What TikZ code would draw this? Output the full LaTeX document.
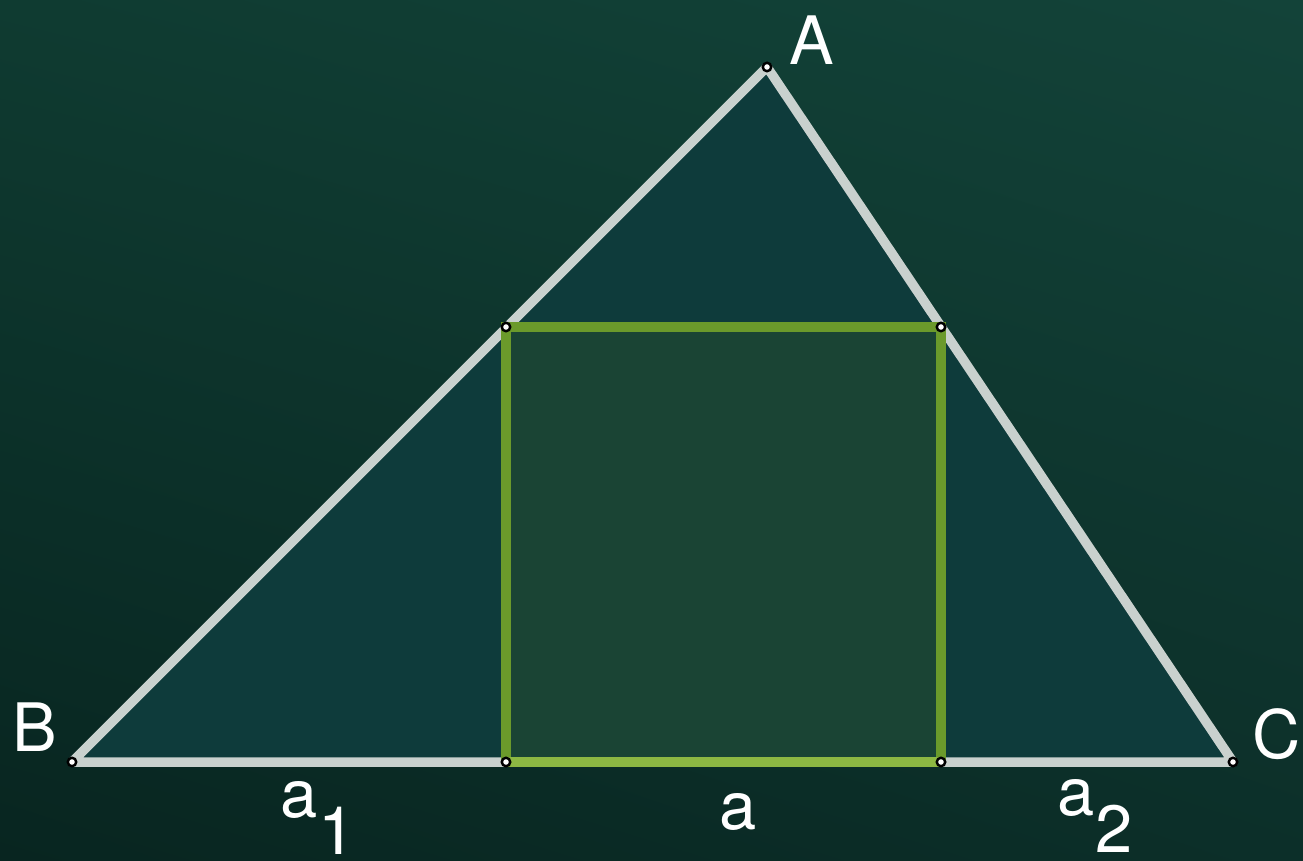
\documentclass[tikz,border=0pt]{standalone}
\usepackage{fontspec}
\setmainfont{TeX Gyre Heros}
\usetikzlibrary{shadings}
\begin{document}
\begin{tikzpicture}[x=0.01cm,y=-0.01cm,
  tri/.style={draw=triline,line width=2.7pt,line join=round},
  sq/.style={draw=sqline,line width=3.1pt},
  pt/.style={circle,draw=black,fill=white,line width=0.7pt,inner sep=0pt,minimum size=2.4pt},
  lbl/.style={text=white,font=\fontsize{19}{22}\selectfont}]
\definecolor{cul}{HTML}{0F3B31}
\definecolor{cur}{HTML}{134339}
\definecolor{cll}{HTML}{082520}
\definecolor{clr}{HTML}{0C2F29}
\definecolor{trifill}{HTML}{0E3B3B}
\definecolor{triline}{HTML}{C9D1CE}
\definecolor{sqfill}{HTML}{1A4434}
\definecolor{sqline}{HTML}{6B9A2B}
\definecolor{sqbot}{HTML}{8DB843}
\shade[upper left=cul,upper right=cur,lower left=cll,lower right=clr] (0,0) rectangle (1303,861);
\useasboundingbox (0,0) rectangle (1303,861);
\coordinate (A) at (767,67);
\coordinate (B) at (72,762);
\coordinate (C) at (1233,762);
\coordinate (P) at (506,327);
\coordinate (Q) at (941,327);
\coordinate (R) at (941,762);
\coordinate (S) at (506,762);
\fill[trifill] (A) -- (B) -- (C) -- cycle;
\fill[sqfill] (P) rectangle (R);
\draw[tri] (A) -- (B) -- (C) -- cycle;
\draw[sq] (S) -- (P) -- (Q) -- (R);
\draw[draw=sqbot,line width=3.1pt] (S) -- (R);
\foreach \p in {A,B,C,P,Q,R,S} \node[pt] at (\p) {};
\node[lbl] (lA) at (812,40) {A};
\node[lbl] (lB) at (35,727) {B};
\node[lbl] (lC) at (1277,734) {C};
\node[lbl] (la1) at (318,818) {a\raisebox{-0.55em}{1}};
\node[lbl] (la) at (738,812) {a};
\node[lbl] (la2) at (1095,816) {a\raisebox{-0.55em}{2}};
\end{tikzpicture}
\end{document}
